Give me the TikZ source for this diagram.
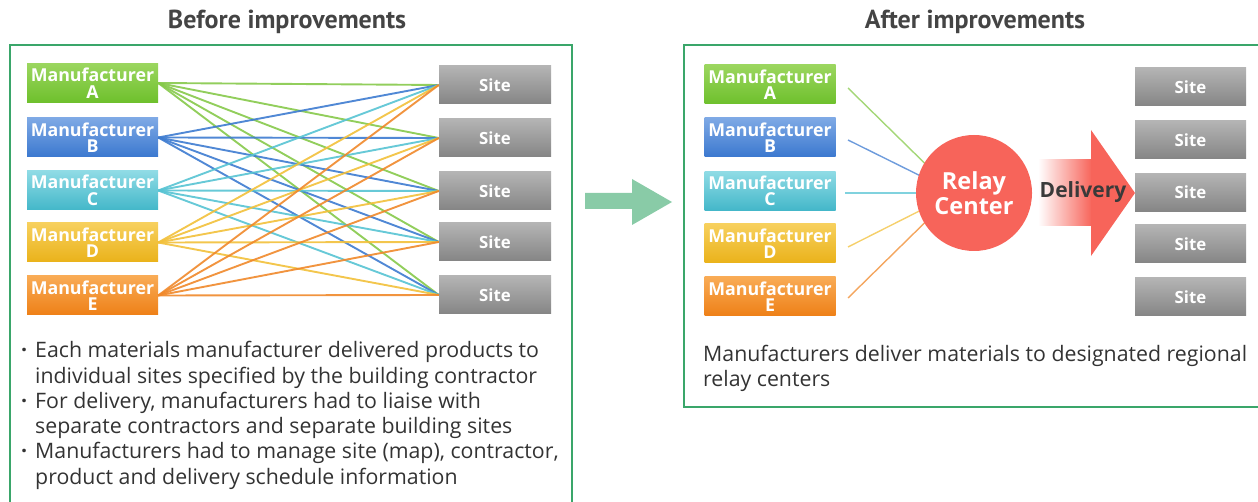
\documentclass[tikz,border=0pt]{standalone}
\usepackage{fontspec}
\setmainfont{Open Sans}
\newfontfamily\ttlfont{PT Sans}
\definecolor{bordergreen}{HTML}{3AA66A}
\definecolor{arrowgreen}{HTML}{89CBA7}
\definecolor{relayred}{HTML}{F7645A}
\definecolor{txt}{HTML}{333333}
\definecolor{ttl}{HTML}{444444}
\definecolor{lnA}{HTML}{86C94A}
\definecolor{lnB}{HTML}{3D7BD0}
\definecolor{lnC}{HTML}{56C3D3}
\definecolor{lnD}{HTML}{F2C03A}
\definecolor{lnE}{HTML}{F0882A}
\definecolor{mAt}{HTML}{9BD65F}\definecolor{mAb}{HTML}{6EC02C}
\definecolor{mBt}{HTML}{7EA9E5}\definecolor{mBb}{HTML}{3B78CF}
\definecolor{mCt}{HTML}{8FDBE5}\definecolor{mCb}{HTML}{43B7C9}
\definecolor{mDt}{HTML}{F7D05D}\definecolor{mDb}{HTML}{EAB21A}
\definecolor{mEt}{HTML}{F9AB55}\definecolor{mEb}{HTML}{EE8017}
\definecolor{sTop}{HTML}{B4B4B4}\definecolor{sBot}{HTML}{858585}
\begin{document}
\begin{tikzpicture}[x=1pt,y=-1pt,
  panel/.style={draw=bordergreen,line width=1.6pt},
  ttlnode/.style={font=\ttlfont\fontsize{26}{28}\selectfont\bfseries,text=ttl},
  mfr/.style={minimum width=131pt,minimum height=39pt,inner sep=0pt,align=center,
    text=white,font=\fontsize{17.8}{16.5}\selectfont\bfseries},
  sitebox/.style={minimum width=112pt,minimum height=38pt,inner sep=0pt,
    top color=sTop,bottom color=sBot,text=white,font=\fontsize{16.8}{17}\selectfont\bfseries},
  mA/.style={mfr,top color=mAt,bottom color=mAb},
  mB/.style={mfr,top color=mBt,bottom color=mBb},
  mC/.style={mfr,top color=mCt,bottom color=mCb},
  mD/.style={mfr,top color=mDt,bottom color=mDb},
  mE/.style={mfr,top color=mEt,bottom color=mEb},
  link/.style={line width=1.9pt,opacity=0.9},
  rlink/.style={line width=1.4pt,opacity=0.75},
  bodyline/.style={anchor=base west,inner sep=0pt,text=txt,font=\fontsize{21.3}{24}\selectfont},
]
\useasboundingbox (0,0) rectangle (1258,502);
\clip (0,0) rectangle (1258,502);

% titles
\node[ttlnode] (t1) at (287,22) {Before improvements};
\node[ttlnode] (t2) at (975,22) {After improvements};

% panels
\draw[panel] (10,45) rectangle (572,520);
\draw[panel] (684,45) rectangle (1270,407);

% ---------- left panel ----------
\node[mA] (la) at (92.5,83) {Manufacturer\\A};
\node[mB] (lb) at (92.5,137.5) {Manufacturer\\B};
\node[mC] (lc) at (92.5,190.5) {Manufacturer\\C};
\node[mD] (ld) at (92.5,242.5) {Manufacturer\\D};
\node[mE] (le) at (92.5,295.5) {Manufacturer\\E};

\node[sitebox] (s1) at (495,85) {Site};
\node[sitebox] (s2) at (495,138) {Site};
\node[sitebox] (s3) at (495,191) {Site};
\node[sitebox] (s4) at (495,242) {Site};
\node[sitebox] (s5) at (495,295) {Site};

\begin{scope}[transparency group]
\foreach \m/\c in {la/lnA,lb/lnB,lc/lnC,ld/lnD,le/lnE}{
  \foreach \s in {s1,s2,s3,s4,s5}{
    \draw[link,draw=\c] (\m.east) -- (\s.west);
  }
}
\end{scope}

\node[bodyline] (b1) at (21,358) {\bfseries·};
\node[bodyline] (l1) at (35,358) {Each materials manufacturer delivered products to};
\node[bodyline] (l2) at (35,383.2) {individual sites specified by the building contractor};
\node[bodyline] (b2) at (21,408.4) {\bfseries·};
\node[bodyline] (l3) at (35,408.4) {For delivery, manufacturers had to liaise with};
\node[bodyline] (l4) at (35,433.6) {separate contractors and separate building sites};
\node[bodyline] (b3) at (21,458.8) {\bfseries·};
\node[bodyline] (l5) at (35,458.8) {Manufacturers had to manage site (map), contractor,};
\node[bodyline] (l6) at (35,484) {product and delivery schedule information};

% big green arrow
\fill[arrowgreen] (585,193) -- (632,193) -- (632,179) -- (672,202) -- (632,225) -- (632,209) -- (585,209) -- cycle;

% ---------- right panel ----------
\node[mA] (ra) at (770,84.5) {Manufacturer\\A};
\node[mB] (rb) at (770,137.5) {Manufacturer\\B};
\node[mC] (rc) at (770,191) {Manufacturer\\C};
\node[mD] (rd) at (770,243.5) {Manufacturer\\D};
\node[mE] (re) at (770,296.5) {Manufacturer\\E};

\coordinate (pa) at (848,88);
\coordinate (pb) at (848,140);
\coordinate (pc) at (845,193);
\coordinate (pd) at (848,247);
\coordinate (pe) at (848,298);
\coordinate (hub) at (955,193);

\draw[rlink,draw=lnA] (pa) -- (hub);
\draw[rlink,draw=lnB] (pb) -- (hub);
\draw[rlink,draw=lnC] (pc) -- (hub);
\draw[rlink,draw=lnD] (pd) -- (hub);
\draw[rlink,draw=lnE] (pe) -- (hub);

\node[circle,fill=relayred,minimum size=116pt,inner sep=0pt,align=center,text=white,
  font=\fontsize{23.5}{25}\selectfont\bfseries] (relay) at (974,193) {Relay\\Center};

% delivery arrow
\fill[left color=white,right color=relayred] (1038,160) rectangle (1092,226);
\fill[relayred] (1091,130) -- (1135,193) -- (1091,256) -- cycle;
\node[text=ttl!85!black,font=\fontsize{21}{22}\selectfont\bfseries] (dlv) at (1083,192) {Delivery};

\node[sitebox,minimum width=111pt] (r1) at (1190.5,87) {Site};
\node[sitebox,minimum width=111pt] (r2) at (1190.5,140) {Site};
\node[sitebox,minimum width=111pt] (r3) at (1190.5,192.5) {Site};
\node[sitebox,minimum width=111pt] (r4) at (1190.5,244) {Site};
\node[sitebox,minimum width=111pt] (r5) at (1190.5,297) {Site};

\node[bodyline] (c1) at (703,362) {Manufacturers deliver materials to designated regional};
\node[bodyline] (c2) at (703,387) {relay centers};
\end{tikzpicture}
\end{document}
